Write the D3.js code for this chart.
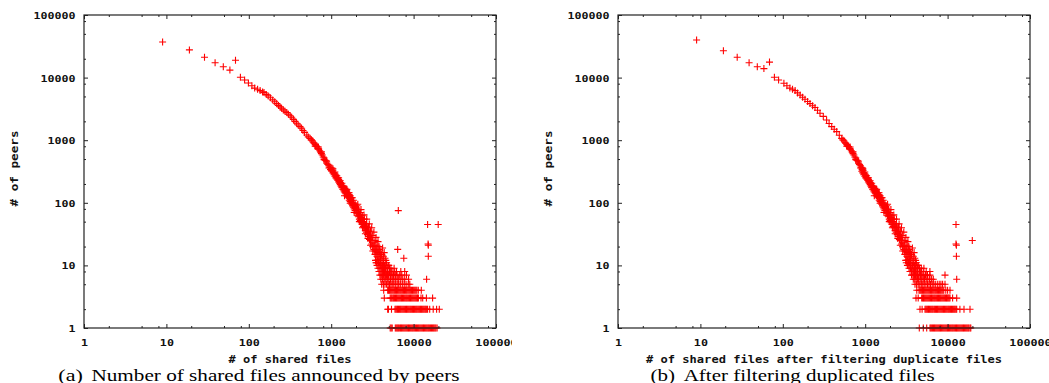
<!DOCTYPE html>
<html>
<head>
<meta charset="utf-8">
<script src="https://cdn.jsdelivr.net/npm/d3@7"></script>
<style>
  html, body { margin: 0; padding: 0; background: #fff; }
  svg { display: block; }
</style>
</head>
<body>
<div id="chart"></div>
<script>
// ---- data: (a) number of shared files announced by peers ----
const headA = [[9, 37000], [19, 27700], [29, 21100], [39, 17300], [49, 14900], [59, 13200], [69, 18900], [79, 10100], [89, 9150]];
const lineA = [[99, 8200], [109, 7400], [118, 6800], [128, 6500], [137, 6200], [147, 5900], [153, 5750], [163, 5400], [172, 5100],
  [183, 4750], [195, 4400], [206, 4100], [218, 3850], [229, 3600], [240, 3400], [250, 3250], [262, 3050], [275, 2900], [289, 2760],
  [302, 2600], [318, 2450], [332, 2330], [348, 2150], [363, 2000], [380, 1860], [398, 1750], [418, 1650], [437, 1550], [455, 1430],
  [475, 1330], [505, 1210], [528, 1130], [555, 1070], [575, 1010], [590, 980], [605, 930], [620, 900], [640, 850], [640, 800],
  [655, 810], [672, 790], [690, 740], [700, 780], [705, 720], [725, 680], [745, 640], [760, 610], [760, 650], [780, 580], [800, 540],
  [820, 520], [820, 490], [845, 480], [865, 470], [880, 460], [885, 430], [910, 410], [930, 390], [940, 360], [955, 370], [980, 340],
  [990, 360], [1000, 330]];
const bandA = [[1020, [360, 320]], [1050, [330, 300, 350]], [1080, [300, 280]], [1110, [290, 265, 310]], [1140, [275, 250]],
  [1170, [255, 240, 270]], [1200, [250, 230]], [1230, [235, 215, 250]], [1260, [220, 205]], [1290, [210, 195, 225]],
  [1320, [200, 185]], [1350, [190, 175, 205]], [1380, [180, 165]], [1410, [175, 160, 185]], [1440, [165, 150]],
  [1470, [160, 145, 170]], [1500, [155, 140]], [1540, [150, 130, 160]], [1580, [140, 125]], [1620, [135, 120, 145]],
  [1660, [125, 110]], [1700, [120, 105, 130]], [1740, [115, 100]], [1780, [108, 95, 120]], [1820, [100, 90]],
  [1860, [98, 85, 110]], [1900, [92, 80]], [1950, [88, 75, 95]], [2000, [84, 70]], [2050, [80, 68, 90]], [2100, [74, 62]],
  [2150, [70, 60, 78]], [2200, [66, 55]], [2260, [62, 52, 70]], [2320, [58, 48]], [2380, [55, 45, 62]], [2450, [50, 42]],
  [2520, [47, 40, 55]], [2600, [44, 36]], [2680, [40, 34, 46]], [2760, [38, 31]], [2840, [35, 29, 41]], [2920, [32, 26]],
  [3000, [30, 25, 35]], [3100, [28, 22]], [3200, [25, 20, 30]], [3300, [23, 18]], [3400, [21, 17, 25]], [3500, [19, 15]],
  [3600, [17, 14, 21]], [3700, [16, 12]], [3800, [15, 11, 18]], [3900, [14, 11]], [4000, [13, 10, 16]], [4150, [12, 9]],
  [4300, [11, 8, 14]], [4450, [10, 8]], [4600, [9, 7, 12]], [4800, [8, 7]]];
const edgeA = [[1450, 130], [1550, 165], [1650, 145], [1700, 98], [1800, 120], [1900, 70], [2100, 95], [2200, 50], [2300, 78],
  [2400, 40], [2500, 64], [2600, 32], [2700, 55], [2800, 27], [2900, 46], [3000, 21], [3100, 40], [3200, 17], [3300, 34],
  [3400, 15], [3500, 28], [3600, 12], [3700, 24], [3800, 20], [3900, 17], [4100, 15], [4200, 19], [4400, 16], [4500, 13],
  [4700, 11], [4900, 10], [5100, 9], [5300, 8]];
const rowsA = [
  [12, [3450, 3700, 3950]],
  [11, [3500, 3750, 4000, 4300]],
  [10, [3600, 3800, 4000, 4200, 4400, 4650, 5000]],
  [9, [3700, 3900, 4100, 4300, 4550, 4800, 5050, 5300, 5800]],
  [8, [3800, 4000, 4200, 4400, 4600, 4850, 5100, 5350, 5600, 5900, 6200, 7000, 7800]],
  [7, [3900, 4100, 4300, 4500, 4700, 4950, 5200, 5450, 5700, 6000, 6300, 6700, 7200, 8200]],
  [6, [4000, 4200, 4400, 4600, 4800, 5000, 5250, 5500, 5750, 6000, 6300, 6600, 7000, 7400, 7800, 8700, 14400]],
  [5, [4100, 4300, 4500, 4700, 4900, 5100, 5300, 5500, 5750, 6000, 6300, 6600, 6900, 7300, 7700, 8100, 8600, 9000]],
  [4, [4340, 4850, 4970, 5090, 5220, 5350, 5480, 5620, 5760, 5900, 6050, 6200, 6360, 6520, 6680, 6850, 7020, 7200, 7380, 7560,
    7750, 7950, 8150, 8350, 8560, 8770, 8990, 9220, 9450, 9690, 9930, 10180, 10430, 10700, 10960, 11400, 12400]],
  [3, [4410, 5200, 5330, 5460, 5600, 5740, 5880, 6030, 6180, 6330, 6490, 6650, 6820, 6990, 7160, 7340, 7520, 7710, 7900, 8100,
    8300, 8510, 8720, 8940, 9160, 9390, 9620, 9860, 10110, 10360, 10620, 10890, 11160, 11440, 12300, 12900, 14300, 17000]],
  [2, [4850, 4950, 5400, 5950, 6100, 6250, 6400, 6560, 6720, 6890, 7060, 7240, 7420, 7600, 7790, 7990, 8190, 8390, 8600, 8820,
    9040, 9260, 9490, 9730, 9970, 10220, 10480, 10740, 11010, 11280, 11560, 11850, 12150, 12450, 12760, 13080, 13410, 13740,
    14080, 14430, 14800, 15700, 17300, 19000, 20500]],
  [1, [5200, 5350, 5500, 6000, 6150, 6300, 6450, 6600, 6780, 6950, 7120, 7300, 7480, 7670, 7860, 8060, 8260, 8470, 8680, 8900,
    9120, 9350, 9580, 9820, 10060, 10310, 10570, 10840, 11110, 11390, 11670, 11960, 12260, 12570, 12880, 13200, 13530, 13870,
    14220, 14570, 14940, 15310, 15690, 16080, 16480, 16900, 17320, 17750, 18200, 18650, 19300]]];
const outA = [[6520, 75], [14800, 45], [19900, 45], [15000, 22], [15100, 21], [6410, 18], [7600, 13], [15100, 14], [3560, 11]];

// ---- data: (b) after filtering duplicated files ----
const headB = [[9, 39800], [19, 26900], [28, 21100], [39, 17300], [49, 14900], [59, 13900], [69, 17700], [79, 10100], [89, 9150]];
const lineB = [[103, 8100], [112, 7400], [122, 6800], [131, 6500], [141, 6200], [151, 5700], [162, 5250], [174, 4850], [186, 4520],
  [200, 4150], [214, 3850], [230, 3550], [246, 3330], [264, 3000], [283, 2700], [310, 2400], [340, 2100], [365, 1850], [392, 1650],
  [420, 1500], [451, 1370], [485, 1200], [518, 1070], [535, 1010], [550, 980], [565, 930], [580, 900], [598, 850], [598, 800],
  [612, 810], [628, 790], [645, 740], [655, 780], [660, 720], [678, 680], [695, 640], [712, 610], [712, 650], [730, 580], [748, 540],
  [768, 520], [768, 490], [790, 480], [810, 470], [825, 460], [830, 430], [850, 410], [870, 390], [880, 360], [895, 370], [918, 340],
  [930, 360], [940, 330]];
const bandB = [[910, [360, 320]], [935, [330, 300, 350]], [960, [300, 280]], [990, [290, 265, 310]], [1015, [275, 250]],
  [1040, [255, 240, 270]], [1070, [250, 230]], [1095, [235, 215, 250]], [1120, [220, 205]], [1150, [210, 195, 225]],
  [1175, [200, 185]], [1200, [190, 175, 205]], [1230, [180, 165]], [1255, [175, 160, 185]], [1280, [165, 150]],
  [1310, [160, 145, 170]], [1335, [155, 140]], [1370, [150, 130, 160]], [1405, [140, 125]], [1440, [135, 120, 145]],
  [1480, [125, 110]], [1515, [120, 105, 130]], [1550, [115, 100]], [1585, [108, 95, 120]], [1620, [100, 90]],
  [1655, [98, 85, 110]], [1690, [92, 80]], [1735, [88, 75, 95]], [1780, [84, 70]], [1825, [80, 68, 90]], [1870, [74, 62]],
  [1915, [70, 60, 78]], [1960, [66, 55]], [2010, [62, 52, 70]], [2065, [58, 48]], [2120, [55, 45, 62]], [2180, [50, 42]],
  [2245, [47, 40, 55]], [2315, [44, 36]], [2385, [40, 34, 46]], [2455, [38, 31]], [2530, [35, 29, 41]], [2600, [32, 26]],
  [2670, [30, 25, 35]], [2760, [28, 22]], [2850, [25, 20, 30]], [2940, [23, 18]], [3025, [21, 17, 25]], [3115, [19, 15]],
  [3205, [17, 14, 21]], [3295, [16, 12]], [3380, [15, 11, 18]], [3470, [14, 11]], [3560, [13, 10, 16]], [3690, [12, 9]],
  [3830, [11, 8, 14]], [3960, [10, 8]], [4090, [9, 7, 12]], [4270, [8, 7]]];
const edgeB = [[1290, 130], [1380, 165], [1470, 145], [1515, 98], [1600, 120], [1690, 70], [1870, 95], [1960, 50], [2050, 78],
  [2140, 40], [2225, 64], [2315, 32], [2400, 55], [2490, 27], [2580, 46], [2670, 21], [2760, 40], [2850, 17], [2940, 34],
  [3025, 15], [3115, 28], [3200, 12], [3300, 24], [3380, 20], [3470, 17], [3650, 15], [3740, 19], [3920, 16], [4000, 13],
  [4180, 11], [4360, 10], [4540, 9], [4720, 8]];
const rowsB = [
  [12, [3100, 3300, 3500]],
  [11, [3150, 3350, 3550, 3800]],
  [10, [3250, 3400, 3550, 3750, 3950, 4150, 4400]],
  [9, [3400, 3550, 3700, 3900, 4100, 4300, 4550, 4800, 5150]],
  [8, [3500, 3650, 3800, 3950, 4150, 4350, 4550, 4800, 5050, 5500, 6100]],
  [7, [3650, 3800, 3950, 4100, 4300, 4500, 4700, 4900, 5150, 5400, 5700, 6100, 9300]],
  [6, [3840, 4000, 4150, 4300, 4450, 4650, 4850, 5050, 5250, 5500, 5750, 6050, 6400, 6710, 12900]],
  [5, [4020, 4200, 4400, 4600, 4800, 5000, 5200, 5450, 5700, 5950, 6200, 6500, 6800, 7100, 7500, 7900, 8300, 8700, 9300]],
  [4, [4230, 4500, 4610, 4730, 4850, 4970, 5090, 5220, 5350, 5490, 5620, 5760, 5910, 6060, 6210, 6360, 6520, 6690, 6850, 7030,
    7200, 7380, 7570, 7760, 7950, 8150, 8350, 8560, 8780, 9000, 9500, 10000, 10700]],
  [3, [4140, 4400, 4850, 4970, 5100, 5220, 5350, 5490, 5630, 5770, 5910, 6060, 6210, 6370, 6520, 6690, 6850, 7020, 7200, 7380,
    7560, 7750, 7950, 8150, 8350, 8560, 8770, 8990, 9220, 9450, 9690, 9930, 10180, 10430, 10700, 11500, 12900]],
  [2, [4620, 4900, 5320, 5450, 5590, 5730, 5870, 6020, 6170, 6320, 6480, 6640, 6810, 6980, 7150, 7330, 7510, 7700, 7890, 8090,
    8290, 8500, 8710, 8930, 9150, 9380, 9610, 9850, 10100, 10350, 10610, 10880, 11150, 11430, 11720, 12010, 12310, 12620,
    12900, 14100, 15800, 18700]],
  [1, [4540, 5070, 5570, 6110, 6260, 6420, 6580, 6740, 6910, 7080, 7260, 7440, 7630, 7820, 8010, 8210, 8420, 8630, 8850, 9070,
    9300, 9530, 9770, 10010, 10260, 10520, 10780, 11050, 11330, 11610, 11900, 12200, 12500, 12810, 13130, 13460, 13800, 14140,
    14500, 14860, 15230, 15610, 16000, 16400, 16810, 17230, 17660, 18100, 18700, 19100]]];
const outB = [[12650, 45], [19950, 25], [12650, 22], [12800, 21], [12800, 14]];

// ---- axis ticks ----
const majorTicks = [1, 10, 100, 1000, 10000, 100000];
const minorTicks = [2, 5, 8, 20, 50, 80, 200, 500, 800, 2000, 5000, 8000, 20000, 50000, 80000];

const width = 1049, height = 383;
const plotTop = 15, plotBottom = 328;
const mono = "'DejaVu Sans Mono', monospace";

const svg = d3.select("#chart").append("svg")
  .attr("width", width)
  .attr("height", height);

const plus = "M-3.5,0H3.5M0,-3.5V3.5";

function toPoints(head, line, band, edge, rows, outl) {
  return [].concat(
    head, line,
    band.flatMap(([x, ys]) => ys.map(v => [x, v])),
    edge,
    rows.flatMap(([v, xs]) => xs.map(x => [x, v])),
    outl);
}

function panel(p) {
  const g = svg.append("g");
  if (p.clip) {
    svg.append("clipPath").attr("id", p.clip.id)
      .append("rect").attr("x", 0).attr("y", 0).attr("width", p.clip.w).attr("height", height);
    g.attr("clip-path", `url(#${p.clip.id})`);
  }

  const x = d3.scaleLog().domain([1, 100000]).range([p.left, p.right]);
  const y = d3.scaleLog().domain([1, 100000]).range([plotBottom, plotTop]);

  // points
  g.append("g")
    .selectAll("path")
    .data(p.points)
    .join("path")
    .attr("transform", d => `translate(${x(d[0]).toFixed(1)},${y(d[1]).toFixed(1)})`)
    .attr("d", plus)
    .attr("fill", "none")
    .attr("stroke", "#ff0000")
    .attr("stroke-width", 1.1);

  const ax = (axis, tr, size, labels) => {
    const a = g.append("g").attr("transform", tr).call(axis.tickSize(size).tickPadding(0));
    a.select(".domain").remove();
    a.selectAll("line").attr("stroke", "#222").attr("stroke-width", 1);
    if (!labels) a.selectAll("text").remove();
    return a;
  };
  const fmt = d3.format("d");

  // bottom
  const xb = ax(d3.axisBottom(x).tickValues(majorTicks).tickFormat(fmt), `translate(0,${plotBottom})`, -4, true);
  xb.selectAll("text")
    .attr("y", 17.5).attr("dy", 0)
    .attr("font-family", mono).attr("font-weight", "bold").attr("font-size", 9.5)
    .attr("fill", "#111")
    .attr("textLength", d => fmt(d).length * 7.05)
    .attr("lengthAdjust", "spacingAndGlyphs");
  ax(d3.axisBottom(x).tickValues(minorTicks), `translate(0,${plotBottom})`, -2, false);
  ax(d3.axisTop(x).tickValues(majorTicks), `translate(0,${plotTop})`, -4, false);
  ax(d3.axisTop(x).tickValues(minorTicks), `translate(0,${plotTop})`, -2, false);

  // left
  const yl = ax(d3.axisLeft(y).tickValues(majorTicks).tickFormat(fmt), `translate(${p.left},0)`, -4, true);
  yl.selectAll("text")
    .attr("x", -8.5).attr("dy", "0.36em")
    .attr("font-family", mono).attr("font-weight", "bold").attr("font-size", 9.5)
    .attr("fill", "#111")
    .attr("textLength", d => fmt(d).length * 7.0)
    .attr("lengthAdjust", "spacingAndGlyphs");
  ax(d3.axisLeft(y).tickValues(minorTicks), `translate(${p.left},0)`, -2, false);
  ax(d3.axisRight(y).tickValues(majorTicks), `translate(${p.right},0)`, -4, false);
  ax(d3.axisRight(y).tickValues(minorTicks), `translate(${p.right},0)`, -2, false);

  // frame
  g.append("rect")
    .attr("x", p.left).attr("y", plotTop)
    .attr("width", p.right - p.left).attr("height", plotBottom - plotTop)
    .attr("fill", "none").attr("stroke", "#222").attr("stroke-width", 1.2);

  // axis titles
  g.append("text")
    .attr("x", (p.left + p.right) / 2).attr("y", 363)
    .attr("text-anchor", "middle")
    .attr("font-family", mono).attr("font-weight", "bold").attr("font-size", 11)
    .attr("fill", "#111")
    .attr("textLength", p.xTitleLen).attr("lengthAdjust", "spacingAndGlyphs")
    .text(p.xTitle);

  g.append("text")
    .attr("transform", `translate(${p.left - 69.5},${(plotTop + plotBottom) / 2 - 3}) rotate(-90)`)
    .attr("text-anchor", "middle")
    .attr("dy", "0.35em")
    .attr("font-family", mono).attr("font-weight", "bold").attr("font-size", 11)
    .attr("fill", "#111")
    .attr("textLength", 76).attr("lengthAdjust", "spacingAndGlyphs")
    .text("# of peers");

  // caption
  const cap = svg.append("g")
    .attr("font-family", "'Liberation Serif', 'Times New Roman', serif")
    .attr("font-size", 17)
    .attr("fill", "#000");
  cap.append("text").attr("x", p.capX).attr("y", 380.5)
    .attr("textLength", 24.5).attr("lengthAdjust", "spacingAndGlyphs")
    .text(p.capTag);
  cap.append("text").attr("x", p.capX + 33.2).attr("y", 380.5)
    .attr("textLength", p.capLen).attr("lengthAdjust", "spacingAndGlyphs")
    .text(p.caption);
}

panel({
  left: 84, right: 496,
  points: toPoints(headA, lineA, bandA, edgeA, rowsA, outA),
  xTitle: "# of shared files", xTitleLen: 123,
  capX: 58.3, capTag: "(a)", caption: "Number of shared files announced by peers", capLen: 368,
  clip: { id: "clipA", w: 512 }
});

panel({
  left: 618, right: 1030,
  points: toPoints(headB, lineB, bandB, edgeB, rowsB, outB),
  xTitle: "# of shared files after filtering duplicate files", xTitleLen: 356,
  capX: 650.5, capTag: "(b)", caption: "After filtering duplicated files", capLen: 251
});
</script>
</body>
</html>
